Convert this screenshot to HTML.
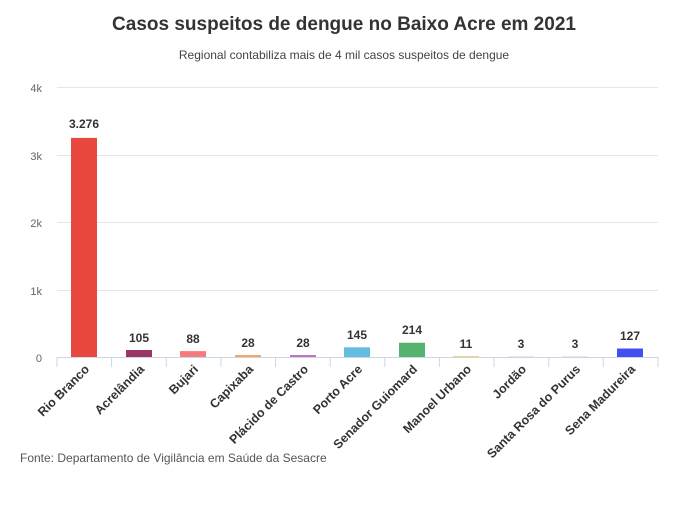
<!DOCTYPE html>
<html><head><meta charset="utf-8"><style>
body{margin:0;background:#fff;font-family:"Liberation Sans","DejaVu Sans",sans-serif;}
</style></head><body>
<svg width="680" height="504" xmlns="http://www.w3.org/2000/svg" font-family="'Liberation Sans','DejaVu Sans',sans-serif">
<rect width="680" height="504" fill="#fff"/>
<text x="344" y="30" text-anchor="middle" font-size="19" font-weight="bold" fill="#333">Casos suspeitos de dengue no Baixo Acre em 2021</text>
<text x="344" y="59" text-anchor="middle" font-size="12" fill="#444">Regional contabiliza mais de 4 mil casos suspeitos de dengue</text>
<g stroke="#e6e6e6" stroke-width="1">
<line x1="57" x2="658" y1="87.5" y2="87.5"/><line x1="57" x2="658" y1="155.5" y2="155.5"/>
<line x1="57" x2="658" y1="222.5" y2="222.5"/><line x1="57" x2="658" y1="290.5" y2="290.5"/>
</g>
<g font-size="11" fill="#666" text-anchor="end">
<text x="42" y="92">4k</text><text x="42" y="160">3k</text><text x="42" y="227">2k</text><text x="42" y="295">1k</text><text x="42" y="362">0</text>
</g>
<g>
<rect x="71" y="137.9" width="26" height="219.1" fill="#e8483f"/>
<rect x="126" y="350" width="26" height="7" fill="#9b3566"/>
<rect x="180" y="351.1" width="26" height="5.9" fill="#f87a7f"/>
<rect x="235" y="355.1" width="26" height="1.9" fill="#f7a35c"/>
<rect x="290" y="355.1" width="26" height="1.9" fill="#c06ac0"/>
<rect x="344" y="347.3" width="26" height="9.7" fill="#62bde0"/>
<rect x="399" y="342.7" width="26" height="14.3" fill="#55b36e"/>
<rect x="453" y="356.3" width="26" height="0.7" fill="#f0c040"/>
<rect x="508" y="356.8" width="26" height="0.2" fill="#888"/>
<rect x="562" y="356.8" width="26" height="0.2" fill="#888"/>
<rect x="617" y="348.5" width="26" height="8.5" fill="#4150f0"/>
</g>
<line x1="57" x2="658" y1="357.5" y2="357.5" stroke="#ccd6eb"/>
<g stroke="#ccd6eb">
<line x1="57" x2="57" y1="357" y2="367"/><line x1="111.6" x2="111.6" y1="357" y2="367"/><line x1="166.3" x2="166.3" y1="357" y2="367"/><line x1="220.9" x2="220.9" y1="357" y2="367"/><line x1="275.5" x2="275.5" y1="357" y2="367"/><line x1="330.2" x2="330.2" y1="357" y2="367"/><line x1="384.8" x2="384.8" y1="357" y2="367"/><line x1="439.4" x2="439.4" y1="357" y2="367"/><line x1="494" x2="494" y1="357" y2="367"/><line x1="548.7" x2="548.7" y1="357" y2="367"/><line x1="603.3" x2="603.3" y1="357" y2="367"/><line x1="658" x2="658" y1="357" y2="367"/>
</g>
<g font-size="12" font-weight="bold" fill="#333" text-anchor="middle">
<text x="84" y="128">3.276</text><text x="139" y="342">105</text><text x="193" y="343">88</text><text x="248" y="347">28</text><text x="303" y="347">28</text><text x="357" y="339">145</text><text x="412" y="334">214</text><text x="466" y="348">11</text><text x="521" y="348">3</text><text x="575" y="348">3</text><text x="630" y="340">127</text>
</g>
<g font-size="12.5" font-weight="bold" fill="#333" text-anchor="end">
<text transform="translate(90,370) rotate(-45)">Rio Branco</text>
<text transform="translate(145,370) rotate(-45)">Acrelândia</text>
<text transform="translate(199,370) rotate(-45)">Bujari</text>
<text transform="translate(254,370) rotate(-45)">Capixaba</text>
<text transform="translate(309,370) rotate(-45)">Plácido de Castro</text>
<text transform="translate(363,370) rotate(-45)">Porto Acre</text>
<text transform="translate(418,370) rotate(-45)">Senador Guiomard</text>
<text transform="translate(472,370) rotate(-45)">Manoel Urbano</text>
<text transform="translate(527,370) rotate(-45)">Jordão</text>
<text transform="translate(581,370) rotate(-45)">Santa Rosa do Purus</text>
<text transform="translate(636,370) rotate(-45)">Sena Madureira</text>
</g>
<text x="20" y="462" font-size="12" fill="#555">Fonte: Departamento de Vigilância em Saúde da Sesacre</text>
</svg>
</body></html>
